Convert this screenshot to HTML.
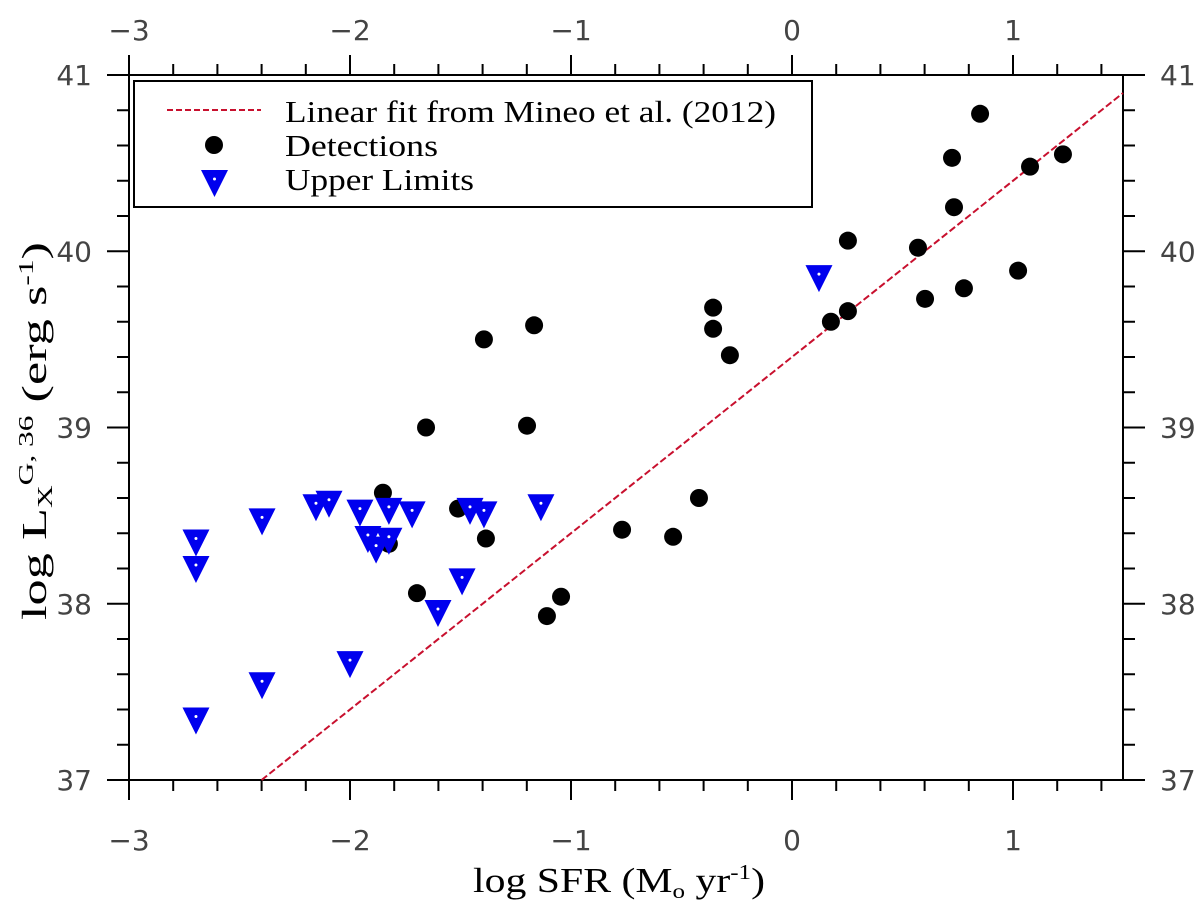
<!DOCTYPE html>
<html><head><meta charset="utf-8"><style>html,body{margin:0;padding:0;background:#fff}svg{display:block}</style></head>
<body>
<svg id="chart" width="1200" height="905" xmlns="http://www.w3.org/2000/svg">
<g id="axes"></g>
<g id="marks"></g>
<g id="legend">
<rect x="134" y="81" width="678" height="126" fill="#fff" stroke="#000" stroke-width="2"/>
<line x1="167" y1="110" x2="261" y2="110" stroke="#c8102e" stroke-width="2" stroke-dasharray="6,3"/>
<text x="285" y="122" font-family="Liberation Serif, serif" font-size="31" textLength="491" lengthAdjust="spacingAndGlyphs">Linear fit from Mineo et al. (2012)</text>
<circle cx="214" cy="145" r="9"/>
<text x="285" y="156" font-family="Liberation Serif, serif" font-size="31" textLength="153" lengthAdjust="spacingAndGlyphs">Detections</text>
<polygon points="201,170 228,170 214.5,197" fill="#0000ee"/>
<circle cx="214.5" cy="179" r="1.5" fill="#fff"/>
<text x="285" y="190" font-family="Liberation Serif, serif" font-size="31" textLength="189" lengthAdjust="spacingAndGlyphs">Upper Limits</text>
</g>
<text x="473" y="892" font-family="Liberation Serif, serif" font-size="35" textLength="292" lengthAdjust="spacingAndGlyphs">log SFR (M<tspan font-size="21" dy="6">o</tspan><tspan dy="-6"> yr</tspan><tspan font-size="21" dy="-13">-1</tspan><tspan dy="13">)</tspan></text>
<text transform="translate(46,620) rotate(-90)" font-family="Liberation Serif, serif" font-size="35" textLength="378" lengthAdjust="spacingAndGlyphs">log L<tspan font-size="21" dy="6">X</tspan><tspan font-size="21" dy="-19">G, 36</tspan><tspan dy="13"> (erg s</tspan><tspan font-size="21" dy="-13">-1</tspan><tspan dy="13">)</tspan></text>
</svg>
<script>
const detX = [0.851,0.724,1.077,1.226,0.733,0.253,0.570,1.023,0.778,0.602,0.253,0.176,-0.357,-0.357,-0.281,-0.421,-0.769,-0.538,-1.394,-1.167,-1.656,-1.199,-1.851,-1.511,-1.385,-1.824,-1.697,-1.045,-1.109];
const detY = [40.78,40.53,40.48,40.55,40.25,40.06,40.02,39.89,39.79,39.73,39.66,39.60,39.68,39.56,39.41,38.60,38.42,38.38,39.50,39.58,39.00,39.01,38.63,38.54,38.37,38.34,38.06,38.04,37.93];
const ulX = [-2.697,-2.697,-2.398,-2.154,-2.095,-1.955,-1.824,-1.719,-1.457,-1.394,-1.136,-1.919,-1.882,-1.824,-1.493,-1.602,-2.0,-2.398,-2.697,0.122];
const ulY = [38.37,38.22,38.49,38.57,38.59,38.54,38.55,38.53,38.55,38.53,38.57,38.39,38.33,38.38,38.15,37.97,37.68,37.56,37.36,39.87];
const fitSlope = [1.0];
const fitIntercept = [39.4];
const xTickLabels = ['−3','−2','−1','0','1'];
const xTickValues = [-3,-2,-1,0,1];
const yTickLabels = ['37','38','39','40','41'];
const yTickValues = [37,38,39,40,41];

const NS='http://www.w3.org/2000/svg';
const L=129,R=1123,T=75,B=780,X0=-3,X1=1.4977,Y0=37,Y1=41;
const sx=v=>L+(v-X0)/(X1-X0)*(R-L);
const sy=v=>B-(v-Y0)/(Y1-Y0)*(B-T);
function mk(tag,attrs,parent){const e=document.createElementNS(NS,tag);for(const k in attrs)e.setAttribute(k,attrs[k]);parent.appendChild(e);return e;}
const axes=document.getElementById('axes'),marks=document.getElementById('marks');
let fr=mk('rect',{x:L,y:T,width:R-L,height:B-T,fill:'none',stroke:'#000','stroke-width':2},axes);


for(let i=0;i<=22;i++){const v=-3+i*0.2;if(v>1.5)break;const x=sx(v);const maj=Math.abs(v-Math.round(v))<1e-6;const len=maj?20:11;
 let t1=mk('line',{x1:x,y1:B,x2:x,y2:B+len,stroke:'#000','stroke-width':2},axes);
 
 
 let t2=mk('line',{x1:x,y1:T,x2:x,y2:T-len,stroke:'#000','stroke-width':2},axes);
 
 }
xTickValues.forEach((v,i)=>{
 let a=mk('text',{x:sx(v),y:850,'text-anchor':'middle','font-family':'DejaVu Sans, sans-serif','font-size':28,fill:'#444'},axes);a.textContent=xTickLabels[i];
 
 
 let b=mk('text',{x:sx(v),y:40,'text-anchor':'middle','font-family':'DejaVu Sans, sans-serif','font-size':28,fill:'#444'},axes);b.textContent=xTickLabels[i];
 
 });
for(let i=0;i<=20;i++){const v=37+i*0.2;const y=sy(v);const maj=i%5===0;const len=maj?22:12;
 let t1=mk('line',{x1:L,y1:y,x2:L-len,y2:y,stroke:'#000','stroke-width':2},axes);
 
 
 let t2=mk('line',{x1:R,y1:y,x2:R+len,y2:y,stroke:'#000','stroke-width':2},axes);
 
 }
yTickValues.forEach((v,i)=>{
 let a=mk('text',{x:92,y:sy(v)+10,'text-anchor':'end','font-family':'DejaVu Sans, sans-serif','font-size':28,fill:'#444'},axes);a.textContent=yTickLabels[i];
 
 
 let b=mk('text',{x:1160,y:sy(v)+10,'text-anchor':'start','font-family':'DejaVu Sans, sans-serif','font-size':28,fill:'#444'},axes);b.textContent=yTickLabels[i];
 
 });
const xs=(Y0-fitIntercept[0])/fitSlope[0];const xe=X1;
let fl=mk('line',{x1:sx(xs),y1:sy(Y0),x2:sx(xe),y2:sy(fitSlope[0]*xe+fitIntercept[0]),stroke:'#c8102e','stroke-width':2,'stroke-dasharray':'7,3'},marks);


detX.forEach((v,i)=>{let c=mk('circle',{cx:sx(v),cy:sy(detY[i]),r:9,fill:'#000'},marks);
 
 });
ulX.forEach((v,i)=>{const x=sx(v),y=sy(ulY[i]);
 let p=mk('polygon',{points:`${x-13.5},${y-9} ${x+13.5},${y-9} ${x},${y+18}`,fill:'#0000ee'},marks);
 
 
 let d=mk('circle',{cx:x,cy:y,r:1.5,fill:'#fff'},marks);
 
 });
</script>
</body></html>
